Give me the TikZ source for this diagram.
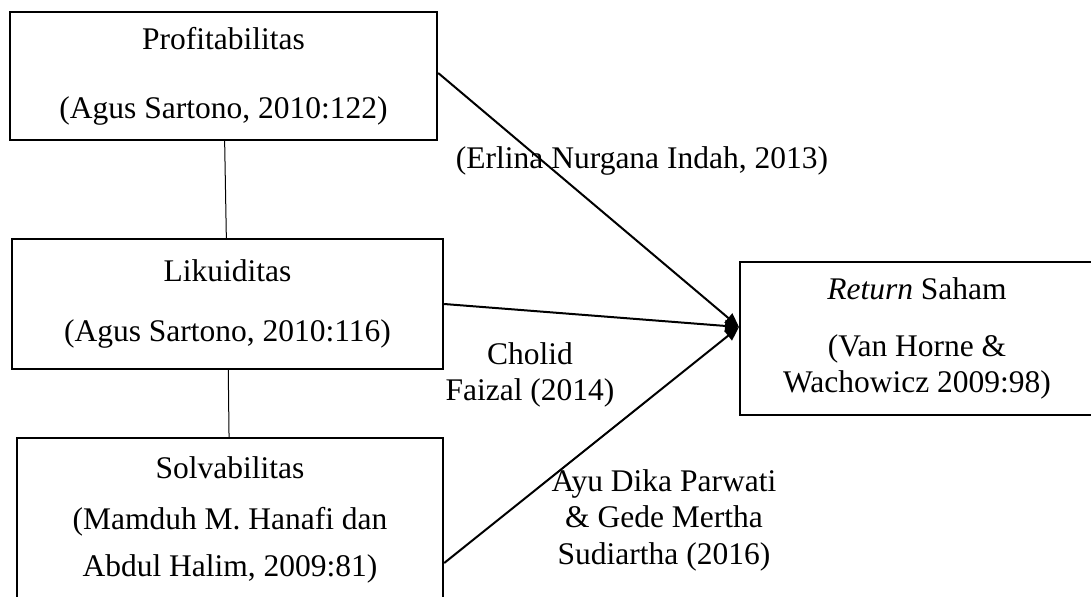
\documentclass[tikz,border=0pt]{standalone}
\usepackage{fontspec}
\setmainfont{Liberation Serif}
\usetikzlibrary{arrows.meta}
\begin{document}
\begin{tikzpicture}[x=0.5pt,y=-0.5pt,
  font=\fontsize{15.75}{18.3}\selectfont,
  box/.style={draw,line width=1.2pt,align=center,inner sep=0pt},
  link/.style={-{Triangle[length=7pt,width=6pt]},line width=1pt},
  citetext/.style={align=center,inner sep=0pt}]

\path[use as bounding box] (0,0) rectangle (1091,596);
\clip (0,0) rectangle (1091,596);

\node[box,minimum width=213.5pt,minimum height=64pt](profitabilitas) at (223.5,76) {Profitabilitas\\[16.2pt](Agus Sartono, 2010:122)};
\node[box,minimum width=215.5pt,minimum height=65pt](likuiditas) at (227.5,304) {Likuiditas\\[11.7pt](Agus Sartono, 2010:116)};
\node[box,minimum width=213pt,minimum height=82pt](solvabilitas) at (230,520) {Solvabilitas\\[7.2pt](Mamduh M. Hanafi dan\\[5.2pt]Abdul Halim, 2009:81)};

\node[box,draw=none,minimum width=176pt,minimum height=75.5pt](return) at (917,338.5) {\textit{Return} Saham\\[10.2pt](Van Horne \&\\Wachowicz 2009:98)};
\draw[line width=1.2pt] ([xshift=10pt]return.north east) -- (return.north west) -- (return.south west) -- ([xshift=10pt]return.south east);

\coordinate (tip) at (739,327);

\draw[line width=0.5pt] (profitabilitas) to (likuiditas);
\draw[line width=0.5pt] (likuiditas) to (solvabilitas);

\draw[link] ([yshift=1.5pt]profitabilitas.east) to (tip);
\draw[link] (likuiditas.east) to (tip);
\draw[link] ([yshift=-21.5pt]solvabilitas.east) to (tip);

\node[citetext,anchor=base](erlina) at (642,168) {(Erlina Nurgana Indah, 2013)};
\node[citetext,anchor=north](cholid) at (530,342) {Cholid\\Faizal (2014)};
\node[citetext,anchor=north](ayu) at (664,469) {Ayu Dika Parwati\\\& Gede Mertha\\Sudiartha (2016)};

\end{tikzpicture}
\end{document}
